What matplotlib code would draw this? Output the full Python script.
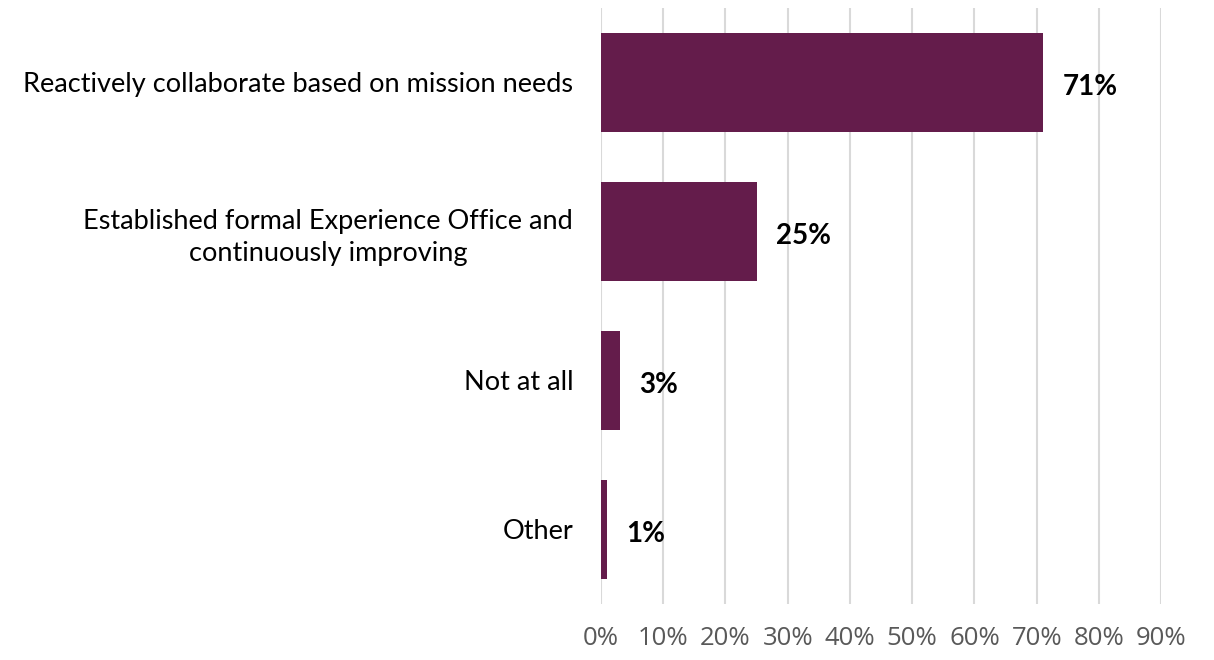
import matplotlib.pyplot as plt

plt.rcParams['font.family'] = ['Lato', 'DejaVu Sans']

# Survey responses and their shares
categories = ['Reactively collaborate based on mission needs',
              'Established formal Experience Office and\ncontinuously improving',
              'Not at all',
              'Other']
shares = [0.71, 0.25, 0.03, 0.01]
xticks = [0, 0.1, 0.2, 0.3, 0.4, 0.5, 0.6, 0.7, 0.8, 0.9]
xtick_labels = ['0%', '10%', '20%', '30%', '40%', '50%', '60%', '70%', '80%', '90%']

fig = plt.figure(figsize=(12.14, 6.6), dpi=100)
ax = fig.add_axes([0.495, 0.085, 0.4615, 0.903])

ypos = list(range(len(categories)))
ax.barh(ypos, shares, height=0.66, color='#641C4B', zorder=3)

for y, v in zip(ypos, shares):
    ax.annotate(f'{v:.0%}', xy=(v, y), xytext=(14, -3), textcoords='offset points',
                ha='left', va='center', fontsize=20, fontweight='bold', color='black')

ax.set_xlim(0, 0.9)
ax.set_ylim(len(categories) - 0.5, -0.5)
ax.set_xticks(xticks, labels=xtick_labels, fontfamily='Open Sans',
              fontsize=18.5, color='#595959')
ax.set_yticks(ypos)
ax.set_yticklabels(categories, fontsize=19.5, color='black',
                   multialignment='center', linespacing=1.35)
ax.tick_params(axis='x', length=0, pad=16)
ax.tick_params(axis='y', length=0, pad=20)

ax.grid(axis='x', color='#D9D9D9', linewidth=1.5, zorder=0)
for s in ax.spines.values():
    s.set_visible(False)

fig.savefig('out.png', dpi=100)
